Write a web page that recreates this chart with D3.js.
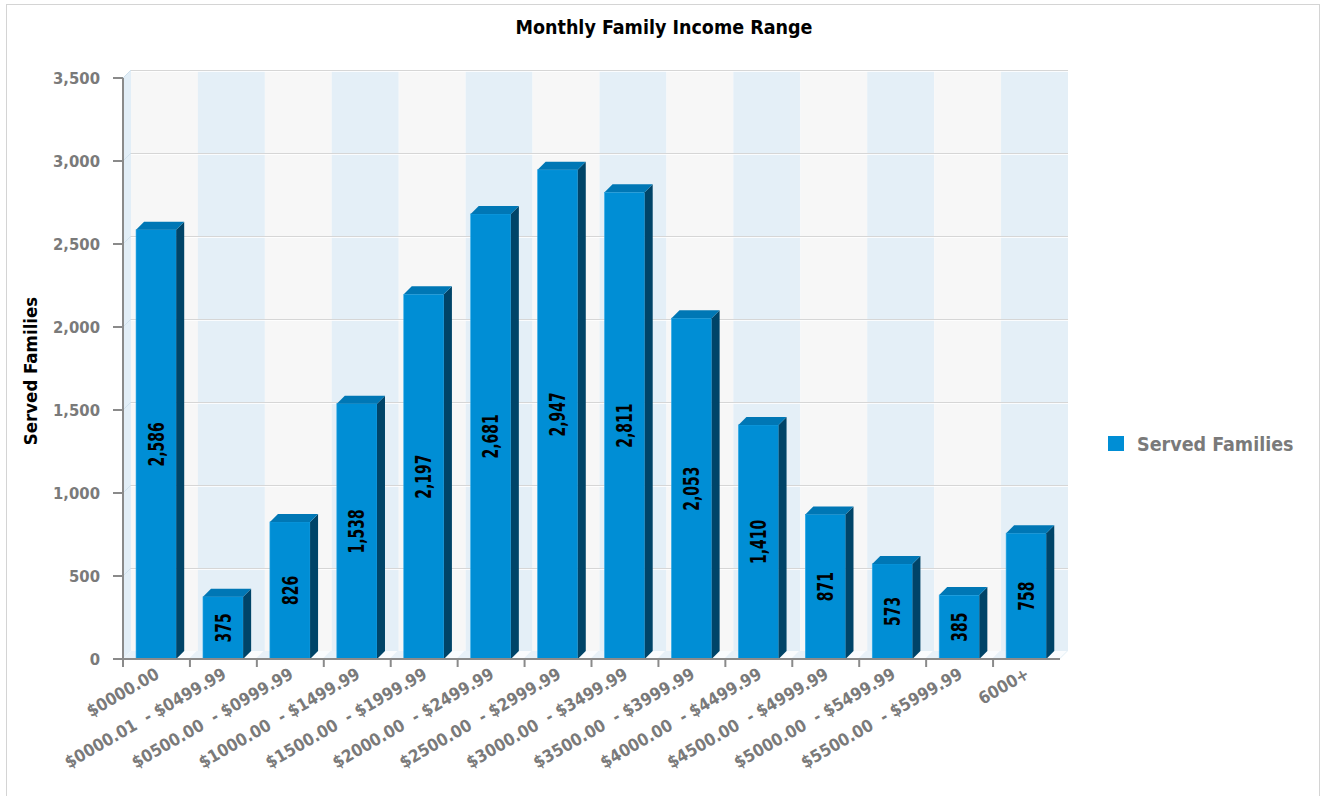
<!DOCTYPE html>
<html>
<head>
<meta charset="utf-8">
<script src="https://cdn.jsdelivr.net/npm/d3@7"></script>
<style>
  body { margin: 0; background: #fff; }
  svg text { white-space: pre; }
</style>
</head>
<body>
<div id="chart"></div>
<script>
// data
var categories = ["$0000.00", "$0000.01  - $0499.99", "$0500.00  - $0999.99",
    "$1000.00  - $1499.99", "$1500.00  - $1999.99", "$2000.00  - $2499.99",
    "$2500.00  - $2999.99", "$3000.00  - $3499.99", "$3500.00  - $3999.99",
    "$4000.00  - $4499.99", "$4500.00  - $4999.99", "$5000.00  - $5499.99",
    "$5500.00  - $5999.99", "6000+"];
var servedFamilies = [2586, 375, 826, 1538, 2197, 2681, 2947, 2811, 2053, 1410, 871, 573, 385, 758];
var yTicks = [0, 500, 1000, 1500, 2000, 2500, 3000, 3500];
var seriesName = "Served Families";

var W = 1321, H = 796;
var plotLeft = 123, plotRight = 1060, plotBottom = 659, plotTop = 78;
var depth = 8;

var font = "'DejaVu Sans Condensed', Tahoma, sans-serif";

var svg = d3.select("#chart").append("svg")
    .attr("width", W)
    .attr("height", H);

// outer frame
svg.append("rect")
    .attr("x", 6.5).attr("y", 4.5)
    .attr("width", 1313).attr("height", 800)
    .attr("fill", "#fff")
    .attr("stroke", "#d4d4d4");

var x = d3.scaleBand().domain(categories).range([plotLeft, plotRight]).padding(0);
var y = d3.scaleLinear().domain([0, 3500]).range([plotBottom, plotTop]);
var bw = x.bandwidth();

// back wall stripes
svg.append("g").selectAll("rect")
    .data(categories).enter().append("rect")
    .attr("x", function(d){ return x(d) + depth; })
    .attr("y", y(3500) - depth)
    .attr("width", bw)
    .attr("height", y(0) - y(3500))
    .attr("fill", function(d, i){ return i % 2 ? "#e4eff7" : "#f7f7f7"; });

// left wall
svg.append("path")
    .attr("d", "M" + plotLeft + "," + y(3500) + "L" + (plotLeft + depth) + "," + (y(3500) - depth) +
        "L" + (plotLeft + depth) + "," + (y(0) - depth) + "L" + plotLeft + "," + y(0) + "Z")
    .attr("fill", "#e2eef7");

// floor
svg.append("path")
    .attr("d", "M" + plotLeft + "," + y(0) + "L" + (plotLeft + depth) + "," + (y(0) - depth) +
        "L" + (plotRight + depth) + "," + (y(0) - depth) + "L" + plotRight + "," + y(0) + "Z")
    .attr("fill", "#e8f1f8");

svg.append("g").selectAll("path")
    .data(categories).enter().append("path")
    .attr("d", function(d){
        var x0 = x(d) + bw * 0.78;
        return "M" + x0 + "," + y(0) + "L" + (x0 + depth) + "," + (y(0) - depth) +
            "L" + (x0 + bw * 0.2 + depth) + "," + (y(0) - depth) + "L" + (x0 + bw * 0.2) + "," + y(0) + "Z";
    })
    .attr("fill", "#fafcfe");

// grid lines
var grid = svg.append("g");
grid.selectAll("line.g1")
    .data(yTicks.slice(1)).enter().append("line")
    .attr("x1", plotLeft + depth).attr("x2", plotRight + depth)
    .attr("y1", function(d){ return y(d) - depth + 0.5; })
    .attr("y2", function(d){ return y(d) - depth + 0.5; })
    .attr("stroke", "#d6d6d6");
grid.selectAll("line.g2")
    .data(yTicks.slice(1)).enter().append("line")
    .attr("x1", plotLeft + depth).attr("x2", plotRight + depth)
    .attr("y1", function(d){ return y(d) - depth + 1.5; })
    .attr("y2", function(d){ return y(d) - depth + 1.5; })
    .attr("stroke", "#ffffff").attr("stroke-opacity", 0.8);
grid.selectAll("line.g3")
    .data(yTicks.slice(1)).enter().append("line")
    .attr("x1", plotLeft).attr("x2", plotLeft + depth)
    .attr("y1", function(d){ return y(d); })
    .attr("y2", function(d){ return y(d) - depth; })
    .attr("stroke", "#cfe0ec");

// bars
var bars = svg.append("g").selectAll("g")
    .data(servedFamilies).enter().append("g");

function bx(i){ return x(categories[i]) + bw * 0.195; }
var barW = bw * 0.6;

bars.append("rect")
    .attr("x", function(d, i){ return bx(i); })
    .attr("y", function(d){ return y(d); })
    .attr("width", barW)
    .attr("height", function(d){ return y(0) - y(d); })
    .attr("fill", "#008ed5")
    .attr("stroke", "#2aa7e6").attr("stroke-width", 0.6);

bars.append("path")
    .attr("d", function(d, i){
        var x1 = bx(i) + barW;
        return "M" + x1 + "," + y(d) + "L" + (x1 + depth) + "," + (y(d) - depth) +
            "L" + (x1 + depth) + "," + (y(0) - depth) + "L" + x1 + "," + y(0) + "Z";
    })
    .attr("fill", "#004468");

bars.append("path")
    .attr("d", function(d, i){
        var x0 = bx(i);
        return "M" + x0 + "," + y(d) + "L" + (x0 + depth) + "," + (y(d) - depth) +
            "L" + (x0 + barW + depth) + "," + (y(d) - depth) + "L" + (x0 + barW) + "," + y(d) + "Z";
    })
    .attr("fill", "#0077b5");

// value labels, squeezed to look like a narrow face
bars.append("text")
    .attr("transform", function(d, i){
        return "translate(" + (bx(i) + barW / 2) + "," + ((y(d) + y(0)) / 2) + ") rotate(-90) scale(0.74,1)";
    })
    .attr("text-anchor", "middle")
    .attr("dy", "0.36em")
    .attr("font-family", font)
    .attr("font-weight", "bold")
    .attr("font-size", 21)
    .attr("fill", "#000")
    .text(function(d){ return d3.format(",")(d); });

// y axis
svg.append("line")
    .attr("x1", plotLeft).attr("x2", plotLeft)
    .attr("y1", y(3500)).attr("y2", y(0))
    .attr("stroke", "#8a8a8a").attr("stroke-width", 2);
var yt = svg.append("g").selectAll("g")
    .data(yTicks).enter().append("g");
yt.append("line")
    .attr("x1", plotLeft - 10).attr("x2", plotLeft)
    .attr("y1", function(d){ return y(d); })
    .attr("y2", function(d){ return y(d); })
    .attr("stroke", "#8a8a8a").attr("stroke-width", 2);
yt.append("text")
    .attr("x", 100)
    .attr("y", function(d){ return y(d); })
    .attr("dy", "0.36em")
    .attr("text-anchor", "end")
    .attr("font-family", font)
    .attr("font-weight", "bold")
    .attr("font-size", 16.5)
    .attr("fill", "#7a7a7a")
    .text(function(d){ return d3.format(",")(d); });

// x axis
svg.append("line")
    .attr("x1", plotLeft).attr("x2", plotRight)
    .attr("y1", y(0)).attr("y2", y(0))
    .attr("stroke", "#8a8a8a").attr("stroke-width", 2);
svg.append("g").selectAll("line")
    .data(categories).enter().append("line")
    .attr("x1", function(d){ return x(d); })
    .attr("x2", function(d){ return x(d); })
    .attr("y1", y(0)).attr("y2", y(0) + 8)
    .attr("stroke", "#8a8a8a").attr("stroke-width", 2);
svg.append("g").selectAll("text")
    .data(categories).enter().append("text")
    .attr("transform", function(d){
        return "translate(" + (x(d) + bw / 2 + 1) + "," + (y(0) + 13) + ") rotate(-30)";
    })
    .attr("text-anchor", "end")
    .attr("dy", "0.36em")
    .attr("font-family", font)
    .attr("font-weight", "bold")
    .attr("font-size", 17)
    .attr("fill", "#7a7a7a")
    .text(function(d){ return d; });

// title
svg.append("text")
    .attr("x", 664).attr("y", 34)
    .attr("text-anchor", "middle")
    .attr("font-family", font)
    .attr("font-weight", "bold")
    .attr("font-size", 19.5)
    .attr("fill", "#000")
    .text("Monthly Family Income Range");

// y axis title
svg.append("text")
    .attr("transform", "translate(30,371) rotate(-90)")
    .attr("text-anchor", "middle")
    .attr("dy", "0.36em")
    .attr("font-family", font)
    .attr("font-weight", "bold")
    .attr("font-size", 18.5)
    .attr("fill", "#000")
    .text(seriesName);

// legend
var legend = svg.append("g").attr("transform", "translate(1108,436)");
legend.append("rect")
    .attr("width", 16).attr("height", 15)
    .attr("fill", "#008ed5");
legend.append("text")
    .attr("x", 29).attr("y", 8)
    .attr("dy", "0.36em")
    .attr("font-family", font)
    .attr("font-weight", "bold")
    .attr("font-size", 19.5)
    .attr("fill", "#7a7a7a")
    .text(seriesName);
</script>
</body>
</html>
